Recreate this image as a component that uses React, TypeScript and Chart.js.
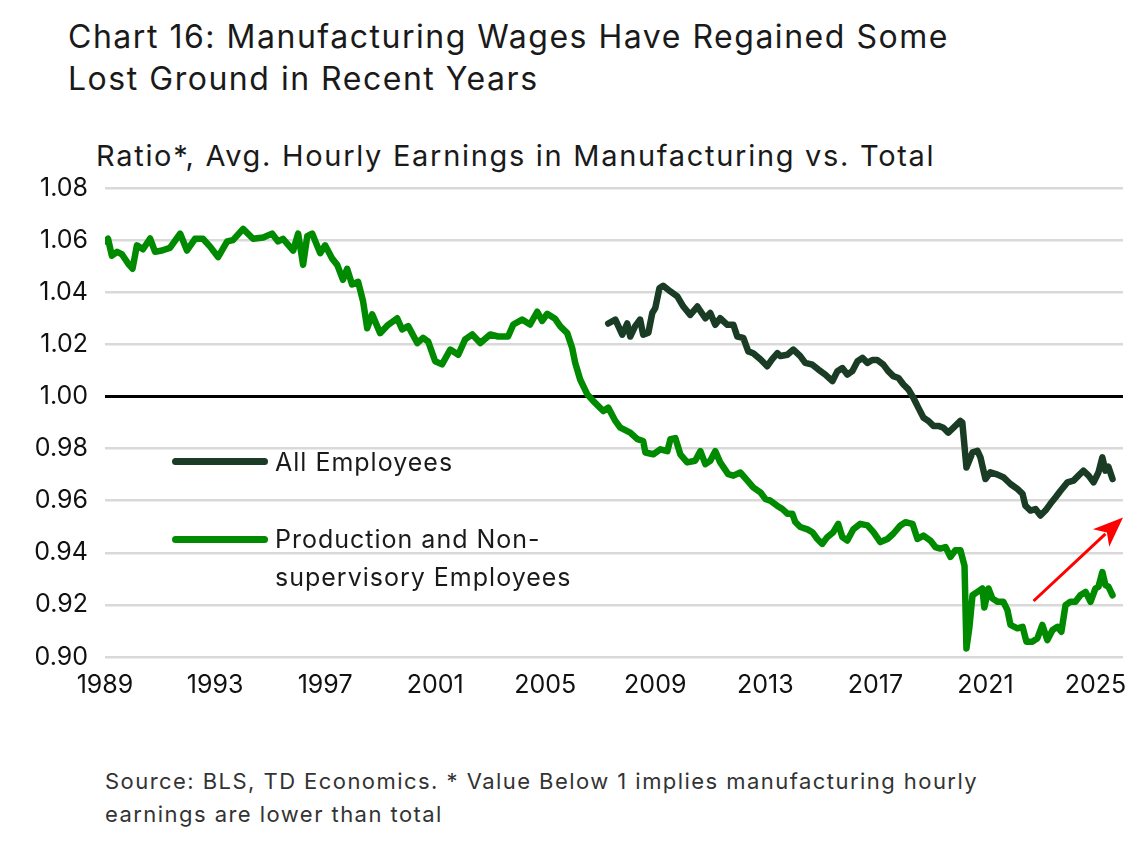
import React, { useEffect, useRef } from "react";
import { Chart, registerables } from "chart.js";
Chart.register(...registerables);

// Production and Non-supervisory Employees (ratio, manufacturing vs total)
const prodYears = [
  1989.0, 1989.11, 1989.25, 1989.44, 1989.62, 1989.84, 1990.0, 1990.16, 1990.38, 1990.64, 1990.82,
  1991.07, 1991.36, 1991.73, 1991.98, 1992.27, 1992.56, 1992.82, 1993.11, 1993.44, 1993.65,
  1994.02, 1994.38, 1994.75, 1995.07, 1995.29, 1995.47, 1995.84, 1996.02, 1996.2, 1996.35,
  1996.53, 1996.82, 1997.0, 1997.25, 1997.44, 1997.65, 1997.8, 1997.98, 1998.2, 1998.38,
  1998.53, 1998.71, 1999.0, 1999.29, 1999.62, 1999.8, 2000.02, 2000.35, 2000.56, 2000.75,
  2001.0, 2001.25, 2001.55, 2001.84, 2002.09, 2002.35, 2002.64, 2003.0, 2003.29, 2003.65,
  2003.84, 2004.16, 2004.45, 2004.71, 2004.89, 2005.07, 2005.36, 2005.55, 2005.8, 2005.98,
  2006.09, 2006.27, 2006.53, 2006.75, 2007.11, 2007.29, 2007.55, 2007.73, 2008.09, 2008.35,
  2008.56, 2008.64, 2008.93, 2009.18, 2009.44, 2009.55, 2009.73, 2009.91, 2010.16, 2010.45,
  2010.64, 2010.82, 2011.0, 2011.18, 2011.36, 2011.65, 2011.84, 2012.09, 2012.35, 2012.56,
  2012.82, 2013.0, 2013.18, 2013.44, 2013.62, 2013.8, 2013.98, 2014.09, 2014.27, 2014.53,
  2014.71, 2014.89, 2015.07, 2015.25, 2015.47, 2015.65, 2015.8, 2015.98, 2016.2, 2016.45,
  2016.71, 2016.93, 2017.18, 2017.44, 2017.65, 2017.91, 2018.09, 2018.35, 2018.53, 2018.75,
  2019.0, 2019.18, 2019.36, 2019.55, 2019.73, 2019.91, 2020.09, 2020.24, 2020.31, 2020.42,
  2020.53, 2020.71, 2020.89, 2020.96, 2021.11, 2021.25, 2021.44, 2021.65, 2021.8, 2021.91,
  2022.16, 2022.35, 2022.49, 2022.71, 2022.89, 2023.07, 2023.25, 2023.44, 2023.62, 2023.76,
  2023.91, 2024.09, 2024.27, 2024.45, 2024.64, 2024.82, 2025.0, 2025.11, 2025.25, 2025.36,
  2025.47, 2025.62,
];
const prodValues = [
  1.0595, 1.0605, 1.054, 1.0555, 1.0545, 1.051, 1.049, 1.058, 1.0565, 1.0606, 1.0555,
  1.056, 1.057, 1.0625, 1.056, 1.0605, 1.0605, 1.0575, 1.0535, 1.0595, 1.06,
  1.0643, 1.0605, 1.061, 1.0625, 1.0595, 1.0605, 1.056, 1.0625, 1.0505, 1.0615,
  1.0625, 1.055, 1.058, 1.053, 1.0505, 1.0448, 1.049, 1.043, 1.044, 1.0365,
  1.0262, 1.0315, 1.0243, 1.0275, 1.03, 1.0257, 1.027, 1.0205, 1.0225, 1.021,
  1.0135, 1.0123, 1.018, 1.016, 1.0219, 1.0238, 1.0205, 1.0238, 1.023, 1.023,
  1.0276, 1.0295, 1.0276, 1.0325, 1.029, 1.0317, 1.0298, 1.0269, 1.0243, 1.0186,
  1.0129, 1.0065, 1.0008, 0.9982, 0.9944, 0.9957, 0.9906, 0.988, 0.9861, 0.9836,
  0.9829, 0.9785, 0.9778, 0.9797, 0.979, 0.9836, 0.984, 0.9778, 0.9747, 0.9753,
  0.979, 0.974, 0.9753, 0.979, 0.9747, 0.9702, 0.9696, 0.9708, 0.9677, 0.9651,
  0.9632, 0.9607, 0.96, 0.958, 0.9568, 0.955, 0.955, 0.9518, 0.9499, 0.949,
  0.9479, 0.9453, 0.9434, 0.946, 0.9479, 0.9511, 0.946, 0.9447, 0.949, 0.9511,
  0.9505, 0.9479, 0.9441, 0.9453, 0.9473, 0.9505, 0.9517, 0.9511, 0.9453, 0.9466,
  0.9447, 0.9422, 0.9416, 0.9422, 0.9384, 0.941, 0.941, 0.935, 0.9033, 0.9116,
  0.9237, 0.925, 0.9263, 0.919, 0.9263, 0.9225, 0.9212, 0.9212, 0.918, 0.9123,
  0.911, 0.9116, 0.9059, 0.9059, 0.9072, 0.9123, 0.9065, 0.9104, 0.9116, 0.9097,
  0.9199, 0.9212, 0.9212, 0.9237, 0.925, 0.9212, 0.9263, 0.927, 0.9326, 0.9276,
  0.927, 0.9237,
];

// All Employees
const allYears = [
  2007.29, 2007.55, 2007.8, 2007.98, 2008.09, 2008.27, 2008.45, 2008.56, 2008.75, 2008.89,
  2009.0, 2009.15, 2009.29, 2009.55, 2009.8, 2010.02, 2010.27, 2010.53, 2010.82, 2011.0,
  2011.18, 2011.36, 2011.62, 2011.84, 2011.98, 2012.2, 2012.38, 2012.56, 2012.82, 2013.07,
  2013.25, 2013.44, 2013.55, 2013.8, 2014.02, 2014.27, 2014.45, 2014.71, 2014.93, 2015.18,
  2015.44, 2015.62, 2015.8, 2015.98, 2016.16, 2016.35, 2016.53, 2016.71, 2016.89, 2017.07,
  2017.29, 2017.47, 2017.65, 2017.84, 2018.02, 2018.2, 2018.38, 2018.56, 2018.75, 2018.93,
  2019.11, 2019.29, 2019.47, 2019.65, 2019.84, 2020.09, 2020.16, 2020.31, 2020.53, 2020.71,
  2020.82, 2021.0, 2021.18, 2021.44, 2021.65, 2021.91, 2022.16, 2022.35, 2022.45, 2022.64,
  2022.82, 2023.0, 2023.18, 2023.36, 2023.55, 2023.73, 2023.98, 2024.2, 2024.38, 2024.56,
  2024.75, 2024.93, 2025.11, 2025.25, 2025.36, 2025.47, 2025.62,
];
const allValues = [
  1.028, 1.0295, 1.0237, 1.028, 1.023, 1.027, 1.0295, 1.0237, 1.0245, 1.032,
  1.0339, 1.0415, 1.0425, 1.0403, 1.0384, 1.0345, 1.0313, 1.0345, 1.03, 1.032,
  1.0275, 1.03, 1.0275, 1.0275, 1.023, 1.0225, 1.0173, 1.0166, 1.0143, 1.0116,
  1.0143, 1.0166, 1.0155, 1.016, 1.018, 1.0155, 1.0129, 1.0122, 1.0103, 1.0084,
  1.0059, 1.0097, 1.0109, 1.0084, 1.0097, 1.0135, 1.0148, 1.0129, 1.014, 1.014,
  1.0122, 1.0097, 1.0078, 1.0071, 1.0046, 1.0027, 0.9995, 0.9957, 0.9918, 0.9906,
  0.9887, 0.9887, 0.988, 0.9861, 0.988, 0.9906, 0.99, 0.9727, 0.9785, 0.9791,
  0.9766, 0.9683, 0.9709, 0.97, 0.969, 0.9664, 0.9645, 0.9626, 0.9581, 0.9562,
  0.9568, 0.9543, 0.9562, 0.9588, 0.9613, 0.9638, 0.967, 0.9677, 0.9696, 0.9715,
  0.9696, 0.967, 0.9709, 0.9766, 0.9715, 0.973, 0.9683,
];

const xTickYears = [1989, 1993, 1997, 2001, 2005, 2009, 2013, 2017, 2021, 2025];
const yTickValues = [0.9, 0.92, 0.94, 0.96, 0.98, 1.0, 1.02, 1.04, 1.06, 1.08];
const xRange = [1989, 2026];
const yRange = [0.9, 1.08];
// red arrow annotation in data coordinates: [year, value]
const arrowFrom = [2022.75, 0.9215];
const arrowTo = [2026.0, 0.9535];

const labelProd = ["Production and Non-", "supervisory Employees"];
const labelAll = "All Employees";
const titleLines = ["Chart 16: Manufacturing Wages Have Regained Some", "Lost Ground in Recent Years"];
const subtitle = "Ratio*, Avg. Hourly Earnings in Manufacturing vs. Total";
const sourceLines = [
  "Source: BLS, TD Economics. * Value Below 1 implies manufacturing hourly",
  "earnings are lower than total",
];

const FONT = "Inter, 'Open Sans', sans-serif";
const DARK = "#1a3c25";
const GREEN = "#008a00";

const arrowPlugin = {
  id: "arrowAnno",
  afterDatasetsDraw(chart: any) {
    const { ctx, scales } = chart;
    const x1 = scales.x.getPixelForValue(arrowFrom[0]);
    const y1 = scales.y.getPixelForValue(arrowFrom[1]);
    const x2 = scales.x.getPixelForValue(arrowTo[0]);
    const y2 = scales.y.getPixelForValue(arrowTo[1]);
    const ang = Math.atan2(y2 - y1, x2 - x1);
    const headLen = 30;
    const headW = 12;
    ctx.save();
    ctx.strokeStyle = "#ff0000";
    ctx.fillStyle = "#ff0000";
    ctx.lineWidth = 3;
    const bx = x2 - headLen * Math.cos(ang);
    const by = y2 - headLen * Math.sin(ang);
    ctx.beginPath();
    ctx.moveTo(x1, y1);
    ctx.lineTo(bx + 6 * Math.cos(ang), by + 6 * Math.sin(ang));
    ctx.stroke();
    ctx.beginPath();
    ctx.moveTo(x2, y2);
    ctx.lineTo(bx + headW * Math.sin(ang), by - headW * Math.cos(ang));
    ctx.lineTo(bx + 8 * Math.cos(ang), by + 8 * Math.sin(ang));
    ctx.lineTo(bx - headW * Math.sin(ang), by + headW * Math.cos(ang));
    ctx.closePath();
    ctx.fill();
    ctx.restore();
  },
};

export default function App() {
  const ref = useRef<HTMLCanvasElement | null>(null);
  useEffect(() => {
    if (!ref.current) return;
    const prodData = prodYears.map((x, i) => ({ x, y: prodValues[i] }));
    const allData = allYears.map((x, i) => ({ x, y: allValues[i] }));
    const tickFont = { family: FONT, size: 25 };
    const chart = new Chart(ref.current, {
      type: "line",
      data: {
        datasets: [
          {
            label: labelAll,
            data: allData,
            borderColor: DARK,
            borderWidth: 6.5,
            pointRadius: 0,
            borderJoinStyle: "round",
            borderCapStyle: "round",
            tension: 0,
          },
          {
            label: labelProd.join(" "),
            data: prodData,
            borderColor: GREEN,
            borderWidth: 6.5,
            pointRadius: 0,
            borderJoinStyle: "round",
            borderCapStyle: "round",
            tension: 0,
          },
        ],
      },
      options: {
        responsive: false,
        maintainAspectRatio: false,
        animation: false,
        layout: { padding: { top: 2, right: 22, left: 0, bottom: 0 } },
        plugins: {
          legend: { display: false },
          tooltip: { enabled: false },
          title: { display: false },
        },
        scales: {
          x: {
            type: "linear",
            min: xRange[0],
            max: xRange[1],
            afterBuildTicks: (s: any) => {
              s.ticks = xTickYears.map((v) => ({ value: v }));
            },
            afterFit: (s: any) => {
              s.height = 50;
            },
            grid: { display: false },
            border: { display: false },
            ticks: {
              font: tickFont,
              color: "#111",
              padding: 5,
              maxRotation: 0,
              autoSkip: false,
              callback: (v: any) => String(v),
            },
          },
          y: {
            type: "linear",
            min: yRange[0],
            max: yRange[1],
            afterBuildTicks: (s: any) => {
              s.ticks = yTickValues.map((v) => ({ value: v }));
            },
            afterFit: (s: any) => {
              s.width = 105;
            },
            grid: {
              drawTicks: false,
              color: (c: any) => (Math.abs(c.tick.value - 1) < 1e-9 ? "#000000" : "#d9d9d9"),
              lineWidth: (c: any) => (Math.abs(c.tick.value - 1) < 1e-9 ? 3 : 2.5),
            },
            border: { display: false },
            ticks: {
              font: tickFont,
              color: "#111",
              padding: 17,
              callback: (v: any) => Number(v).toFixed(2),
            },
          },
        },
      },
      plugins: [arrowPlugin],
    } as any);
    return () => chart.destroy();
  }, []);

  const text: React.CSSProperties = { position: "absolute", fontFamily: FONT, color: "#1a1a1a", whiteSpace: "nowrap" };
  const swatch = (top: number, color: string): React.CSSProperties => ({
    position: "absolute",
    left: 172,
    top: top - 3.5,
    width: 96,
    height: 7,
    borderRadius: 4,
    background: color,
  });

  return (
    <div style={{ position: "fixed", left: 0, top: 0, width: 1145, height: 849, background: "#fff", overflow: "hidden" }}>
      <div style={{ ...text, left: 68, top: 16, fontSize: 32, lineHeight: "42px", letterSpacing: 1.52 }}>
        {titleLines.map((t) => (
          <div key={t}>{t}</div>
        ))}
      </div>
      <div style={{ ...text, left: 96, top: 136, fontSize: 29, lineHeight: "40px", letterSpacing: 1.7 }}>{subtitle}</div>
      <canvas
        ref={ref}
        width={1145}
        height={551}
        style={{ position: "absolute", left: 0, top: 156, width: 1145, height: 551 }}
      />
      <div style={swatch(461, DARK)} />
      <div style={{ ...text, left: 275, top: 443, fontSize: 25, lineHeight: "38px", letterSpacing: 1 }}>{labelAll}</div>
      <div style={swatch(539, GREEN)} />
      <div style={{ ...text, left: 275, top: 520, fontSize: 25, lineHeight: "38px", letterSpacing: 1 }}>
        {labelProd.map((t) => (
          <div key={t}>{t}</div>
        ))}
      </div>
      <div style={{ ...text, left: 105, top: 765, fontSize: 22, lineHeight: "33px", color: "#333", letterSpacing: 1.45 }}>
        {sourceLines.map((t) => (
          <div key={t}>{t}</div>
        ))}
      </div>
    </div>
  );
}
